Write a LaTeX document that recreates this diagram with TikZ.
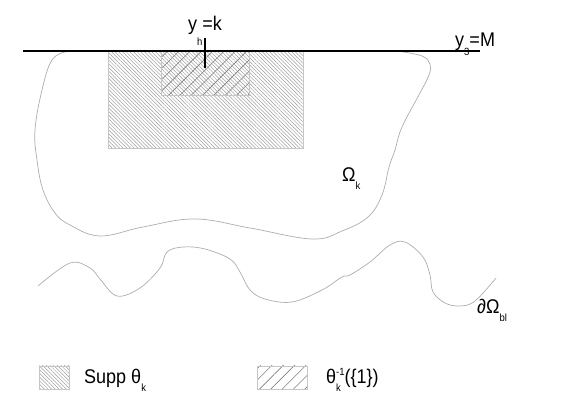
\documentclass[tikz,border=0pt]{standalone}
\usepackage{fontspec}
\setmainfont{Liberation Sans}
\usetikzlibrary{patterns.meta}
\newcommand\sbx[2]{\raisebox{-#2}{\fontsize{9.5}{10}\selectfont #1}}
\newcommand\spx[2]{\raisebox{#2}{\fontsize{9.5}{10}\selectfont #1}}
\newcommand\tall[1]{\scalebox{1}[1.1]{#1}}
\definecolor{curvegray}{gray}{0.68}
\definecolor{hatchgray}{gray}{0.62}
\begin{document}
\begin{tikzpicture}[x=1pt,y=-1pt,
  lbl/.style={anchor=base west,inner sep=0pt,font=\fontsize{18}{20}\selectfont},
  densehatch/.style={pattern={Lines[angle=-45,distance=2.6pt,line width=0.5pt]},pattern color=hatchgray},
  widehatch/.style={pattern={Lines[angle=45,distance=8pt,line width=0.6pt]},pattern color=gray},
  hatchborder/.style={draw=gray!45,line width=0.5pt},
  curve/.style={draw=curvegray,line width=0.7pt},
  thickline/.style={line width=2pt,black}]
\useasboundingbox (0,0) rectangle (581,411);
% support rectangle
\path[densehatch] (108,51) rectangle (303,148);
\draw[hatchborder] (108,51) rectangle (303,148);
% theta^{-1}({1}) rectangle
\path[widehatch] (161,51) rectangle (249,95);
\draw[hatchborder] (161,51) rectangle (249,95);
% Omega_k boundary
\draw[curve] plot[smooth,tension=0.65] coordinates {(67,51.5) (52,60) (42,90) (35,130) (37,160) (43,190) (55,213) (70,225) (100,236) (143,227) (195,219) (250,228) (312,239) (342,231) (368,217) (382,195) (389,167) (395,150) (402,127) (420,93) (429,75) (430,64) (422,56) (400,51.5)};
% wavy boundary
\draw[curve] plot[smooth,tension=0.6] coordinates {(38,286) (70,263) (90,268) (100,279) (117,296) (140,288) (160,268) (167,252) (183,247) (205,249) (230,259) (240,272) (250,290) (265,299) (292,302) (322,290) (342,277) (350,275) (370,262) (390,245) (405,242) (423,257) (430,275) (433,292) (445,303) (460,306) (475,301) (496,278)};
% line y3 = M
\coordinate (L1) at (23,51.5);
\coordinate (L2) at (480,51.5);
\draw[thickline] (L1) -- (L2);
\coordinate (T1) at (205,38);
\coordinate (T2) at (205,68);
\draw[thickline] (T1) -- (T2);
% labels
\node[lbl] (yh) at (188,30.5) {\tall{y\sbx{h}{13.5pt}=k}};
\node[lbl] (y3) at (455,47) {\tall{y\sbx{3}{8pt}=M}};
\node[lbl] (om) at (342,182) {\tall{Ω\sbx{k}{6.5pt}}};
\node[lbl] (dom) at (477,314) {\tall{∂Ω\sbx{bl}{7pt}}};
% legend
\path[densehatch] (39,366) rectangle (69,389);
\draw[hatchborder] (39,366) rectangle (69,389);
\path[widehatch] (257,366) rectangle (307,389);
\draw[hatchborder] (257,366) rectangle (307,389);
\node[lbl] (l1) at (84,384) {\tall{Supp θ\sbx{k}{6.5pt}}};
\node[lbl] (l2) at (326,384) {\tall{θ\rlap{\sbx{k}{6.5pt}}\spx{-1}{7.5pt}(\{1\})}};
\end{tikzpicture}
\end{document}
